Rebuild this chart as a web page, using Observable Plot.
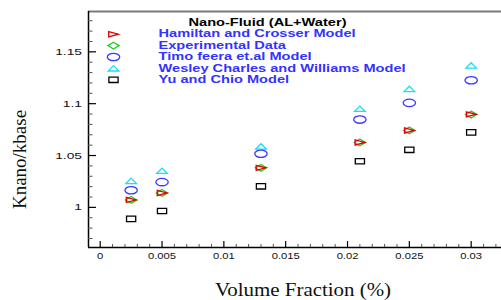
<!DOCTYPE html>
<html><head><meta charset="utf-8">
<script src="https://cdn.jsdelivr.net/npm/d3@7"></script>
<script src="https://cdn.jsdelivr.net/npm/@observablehq/plot@0.6"></script>
<style>html,body{margin:0;padding:0;background:#fff;} #chart{width:501px;height:300px;overflow:hidden}</style>
</head><body><div id="chart"></div>
<script>
// ---- data ----
const xVals = [0.0025, 0.005, 0.013, 0.021, 0.025, 0.03];
const hamilton     = [1.0072, 1.0139, 1.0381, 1.0626, 1.0742, 1.0897];
const experimental = [1.0072, 1.0139, 1.0381, 1.0626, 1.0742, 1.0895];
const timo         = [1.0165, 1.0244, 1.0517, 1.0847, 1.1008, 1.1226];
const wesley       = [1.0255, 1.0352, 1.0587, 1.0950, 1.1141, 1.1368];
const yu           = [0.9889, 0.9965, 1.0203, 1.0445, 1.0555, 1.0723];
const seriesNames = ["Hamiltan and Crosser Model", "Experimental Data", "Timo feera et.al Model", "Wesley Charles and Williams Model", "Yu and Chio Model"];
const legendTitle = "Nano-Fluid (AL+Water)";
const xTicks = [0, 0.005, 0.01, 0.015, 0.02, 0.025, 0.03];
const yTicks = [1, 1.05, 1.1, 1.15];
const xDomain = [-0.000947, 0.032453];
const yDomain = [0.9613, 1.1889];
const xLabel = "Volume Fraction (%)";
const yLabel = "Knano/kbase";

// ---- custom symbols (unit r = 4) ----
const mk = (fn) => ({draw(ctx, size) { const k = Math.sqrt(size / Math.PI) / 4; fn(ctx, k); }});
const poly = (pts) => mk((c, k) => { c.moveTo(pts[0][0]*k, pts[0][1]*k); for (const p of pts.slice(1)) c.lineTo(p[0]*k, p[1]*k); c.closePath(); });
const symTriRight = poly([[-4.8,-2.6],[4.8,0],[-4.8,2.6]]);
const symDiamond = poly([[0,-3.4],[5.6,0],[0,3.4],[-5.6,0]]);
const symTriUp = poly([[-5.3,2.6],[5.3,2.6],[0,-2.8]]);
const symSquare = poly([[-4.6,-2.7],[4.6,-2.7],[4.6,2.7],[-4.6,2.7]]);
const symEllipse = mk((c, k) => {
  const rx = 6.2*k, ry = 3.7*k, K = 0.5523;
  c.moveTo(rx, 0);
  c.bezierCurveTo(rx, ry*K, rx*K, ry, 0, ry);
  c.bezierCurveTo(-rx*K, ry, -rx, ry*K, -rx, 0);
  c.bezierCurveTo(-rx, -ry*K, -rx*K, -ry, 0, -ry);
  c.bezierCurveTo(rx*K, -ry, rx, -ry*K, rx, 0);
  c.closePath();
});

const series = [
  {name: seriesNames[0], values: hamilton, color: "#e00000", symbol: symTriRight},
  {name: seriesNames[1], values: experimental, color: "#1fcf1f", symbol: symDiamond},
  {name: seriesNames[2], values: timo, color: "#3a3aff", symbol: symEllipse},
  {name: seriesNames[3], values: wesley, color: "#12e2f2", symbol: symTriUp},
  {name: seriesNames[4], values: yu, color: "#000000", symbol: symSquare}
];
const drawOrder = [4, 3, 2, 1, 0];

const W = 501, H = 300, mL = 88, mR = 0, mT = 11, mB = 53;
const frameW = W - mL - mR, frameH = H - mT - mB;

const yMinor = d3.range(97, 119).filter(d => d % 5 !== 0).map(d => d / 100);
const xMinor = d3.range(1, 33).filter(d => d % 5 !== 0).map(d => d / 1000);

const marks = [
  // frame lines
  Plot.ruleY([yDomain[1]], {stroke: "#7a7a7a", strokeWidth: 2}),
  Plot.ruleX([xDomain[0]], {stroke: "#000", strokeWidth: 1.5}),
  Plot.ruleY([yDomain[0]], {stroke: "#000", strokeWidth: 1.5}),
  // inward ticks
  Plot.tickY(yTicks, {y: d => d, insetRight: frameW - 8, stroke: "#000", strokeWidth: 1.2}),
  Plot.tickY(yMinor, {y: d => d, insetRight: frameW - 4.5, stroke: "#555", strokeWidth: 1}),
  Plot.tickX(xTicks, {x: d => d, insetTop: frameH - 6, stroke: "#000", strokeWidth: 1.2}),
  Plot.tickX(xMinor, {x: d => d, insetTop: frameH - 3, stroke: "#555", strokeWidth: 1}),
  Plot.axisX(xTicks, {tickSize: 0, tickPadding: 5, tickFormat: d => String(d), label: null, fontSize: 9.5, fill: "#111"}),
  Plot.axisY(yTicks, {tickSize: 0, tickPadding: 6.5, tickFormat: d => String(d), label: null, fontSize: 9.5, fill: "#111"}),
  // axis titles
  Plot.text([xLabel], {text: d => d, frameAnchor: "bottom", dx: 8, dy: 42, textAnchor: "middle", lineAnchor: "middle", fontFamily: "Liberation Serif, Times New Roman, serif", fontSize: 19, fill: "#111"}),
  Plot.text([yLabel], {text: d => d, frameAnchor: "left", dx: -68.5, dy: 30, rotate: -90, textAnchor: "middle", lineAnchor: "middle", fontFamily: "Liberation Serif, Times New Roman, serif", fontSize: 19, fill: "#111"}),
  // data
  ...drawOrder.map(i => Plot.dot(xVals.map((x, j) => ({x, y: series[i].values[j]})), {x: "x", y: "y", symbol: series[i].symbol, stroke: series[i].color, fill: "none", r: 4, strokeWidth: 1.3})),
  // legend
  Plot.text([legendTitle], {text: d => d, frameAnchor: "top-left", dx: 179, dy: 11.5, textAnchor: "middle", lineAnchor: "middle", fontWeight: "bold", fontSize: 10, fill: "#000"}),
  ...series.map((s, i) => Plot.dot([s], {frameAnchor: "top-left", dx: 25, dy: 22.7 + 11.4 * i, symbol: s.symbol, stroke: s.color, fill: "none", r: 4, strokeWidth: 1.3})),
  ...series.map((s, i) => Plot.text([s.name], {text: d => d, frameAnchor: "top-left", dx: 70, dy: 22.7 + 11.4 * i, textAnchor: "start", lineAnchor: "middle", fontWeight: "bold", fontSize: 10, fill: "#3333ff"}))
];

const chart = Plot.plot({
  width: W, height: H,
  marginLeft: mL, marginRight: mR, marginTop: mT, marginBottom: mB,
  x: {domain: xDomain},
  y: {domain: yDomain},
  style: {fontFamily: "Liberation Sans, Arial, sans-serif", fontSize: "9.5px", background: "white"},
  marks
});
document.getElementById("chart").appendChild(chart);

// horizontal stretch of text to mimic the reference
const legendSet = new Set([legendTitle, ...seriesNames]);
for (const t of chart.querySelectorAll("text")) {
  const s = t.textContent;
  const g = t.closest("g[aria-label]");
  const lab = g ? g.getAttribute("aria-label") : "";
  let f = 1;
  if (legendSet.has(s)) f = 1.46;
  else if (lab.startsWith("y-axis tick")) f = 1.45;
  else if (lab.startsWith("x-axis tick")) f = 1.18;
  else if (s === xLabel) f = 1.1;
  if (f !== 1) {
    const len = t.getComputedTextLength();
    t.setAttribute("textLength", (len * f).toFixed(1));
    t.setAttribute("lengthAdjust", "spacingAndGlyphs");
  }
}
</script></body></html>
